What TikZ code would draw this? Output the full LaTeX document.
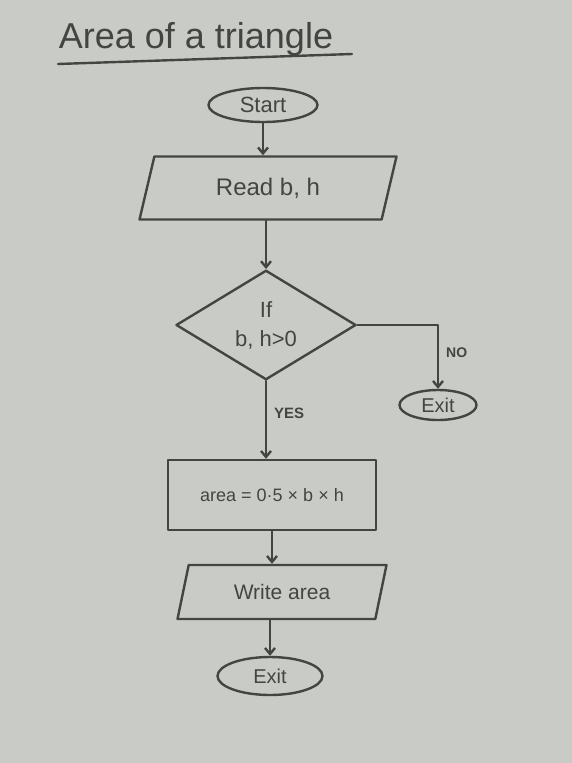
\documentclass[tikz,border=0pt]{standalone}
\usepackage{fontspec}
\setmainfont{Liberation Sans}
\usetikzlibrary{arrows.meta, shapes.geometric}

\definecolor{paper}{RGB}{201,204,198}
\definecolor{ink}{RGB}{66,69,66}

\begin{document}
\begin{tikzpicture}[%
        > = {Straight Barb[length = 6pt, width = 10pt]},
        x = 1pt,
        y = -1pt,
        line width = 2.4pt,
        line cap = round,
        line join = round,
        color = ink,
        every node/.style = {inner sep = 0pt},
        terminal/.style = {draw, ellipse},
        io/.style = {draw, trapezium, trapezium left angle = 54,
            trapezium right angle = 126, trapezium stretches body},
        decision/.style = {draw, diamond, align = center},
        process/.style = {draw, rectangle}
    ]

        % Paper.
        \fill[paper] (0, 0) rectangle (572, 763);

        % Title.
        \node[font = \fontsize{36}{40}\selectfont] (title) at (196, 39) {Area of a triangle};
        \draw (58, 64) to (352, 54);

        % Boxes.
        \node[terminal, minimum width = 109pt, minimum height = 34pt,
            font = \fontsize{22}{26}\selectfont] (start) at (263, 105) {Start};
        \node[io, minimum width = 257pt, minimum height = 63pt,
            font = \fontsize{24}{28}\selectfont] (read) at (268, 188) {Read b, h};
        \node[decision, minimum width = 180pt, minimum height = 104pt,
            font = \fontsize{22}{29}\selectfont] (check) at (266, 325) {If\\b, h>0};
        \node[terminal, minimum width = 77pt, minimum height = 30pt,
            font = \fontsize{20}{24}\selectfont] (quit) at (438, 405) {Exit};
        \node[process, minimum width = 208pt, minimum height = 70pt,
            font = \fontsize{18}{22}\selectfont] (calc) at (272, 495) {area = 0·5 × b × h};
        \node[io, minimum width = 209pt, minimum height = 54pt,
            font = \fontsize{21}{25}\selectfont] (write) at (282, 592) {Write area};
        \node[terminal, minimum width = 105pt, minimum height = 38pt,
            font = \fontsize{20}{24}\selectfont] (stop) at (270, 676) {Exit};

        % Arrows.
        \draw[->] (start.south) -- (start.south |- read.north);
        \draw[->] (read.south -| check.north) -- (check.north);
        \draw[->] (check.east) -| (quit.north)
            node [pos = 0.72, right = 7pt, font = \fontsize{14}{16}\selectfont\bfseries] {NO};
        \draw[->] (check.south) -- (check.south |- calc.north)
            node [pos = 0.42, right = 7pt, font = \fontsize{15}{17}\selectfont\bfseries] {YES};
        \draw[->] (calc.south) -- (calc.south |- write.north);
        \draw[->] (write.south -| stop.north) -- (stop.north);
    \end{tikzpicture}
\end{document}
